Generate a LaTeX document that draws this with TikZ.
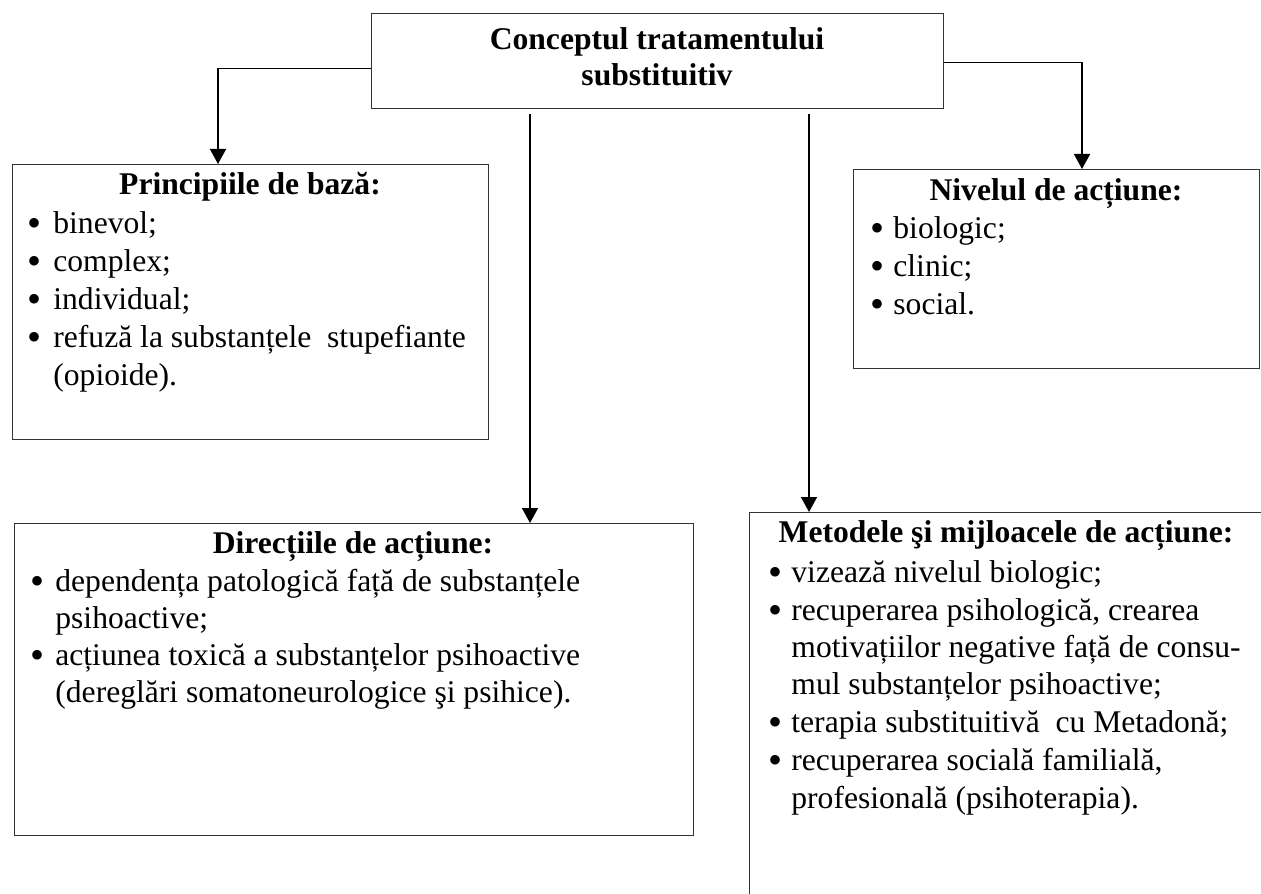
\documentclass[tikz,border=0pt]{standalone}
\usepackage{fontspec}
\setmainfont{Liberation Serif}
\usetikzlibrary{arrows.meta,calc}
\newcommand\myitem[5]{%
  \node[bul] (#1b) at (#2,#4+3) {\textbullet};
  \node[txt] (#1) at (#3,#4) {#5};}
\begin{document}
\begin{tikzpicture}[x=0.5pt,y=-0.5pt,
  box/.style={draw=black!80,line width=0.6pt,inner sep=0,anchor=north west},
  txt/.style={anchor=base west,inner sep=0,font=\fontsize{15.8}{18.8}\selectfont},
  bul/.style={anchor=base,inner sep=0,font=\fontsize{20}{20}\selectfont},
  ttl/.style={anchor=base,inner sep=0,font=\fontsize{15.8}{18.8}\selectfont\bfseries},
  conn/.style={draw,line width=0.75pt},
  arr/.style={conn,-{Triangle[length=7.5pt,width=8pt]}}]
\useasboundingbox (0,0) rectangle (1261,893);
\clip (0,0) rectangle (1261,893);

% boxes
\node[box,minimum width=286pt,minimum height=47.5pt] (top) at (371,13) {};
\node[box,minimum width=238pt,minimum height=137.5pt] (princ) at (12,164) {};
\node[box,minimum width=203pt,minimum height=99.5pt] (niv) at (853,169) {};
\node[box,minimum width=339.5pt,minimum height=156pt] (dir) at (14,523) {};
\node[box,minimum width=300pt,minimum height=250pt] (met) at (749,512) {};

% top title
\node[ttl] (topt1) at (657,50) {Conceptul tratamentului};
\node[ttl] (topt2) at (657,86) {substituitiv};

% Principiile
\node[ttl] (pt) at (250,195) {Principiile de bază:};
\myitem{p1}{35}{53}{233}{binevol;}
\myitem{p2}{35}{53}{271}{complex;}
\myitem{p3}{35}{53}{309}{individual;}
\myitem{p4}{35}{53}{347}{refuză la substanțele~ stupefiante}
\node[txt] (p5) at (53,385) {(opioide).};

% Nivelul
\node[ttl] (nt) at (1056,200) {Nivelul de acțiune:};
\myitem{n1}{877}{893}{238}{biologic;}
\myitem{n2}{877}{893}{276}{clinic;}
\myitem{n3}{877}{893}{314}{social.}

% Directiile
\node[ttl] (dt) at (353,553) {Direcțiile de acțiune:};
\myitem{d1}{38}{55}{591}{dependența patologică față de substanțele}
\node[txt] (d2) at (55,628) {psihoactive;};
\myitem{d3}{38}{55}{665}{acțiunea toxică a substanțelor psihoactive}
\node[txt] (d4) at (55,702) {(dereglări somatoneurologice şi psihice).};

% Metodele
\node[ttl] (mt) at (1006,542) {Metodele şi mijloacele de acțiune:};
\myitem{m1}{775}{791}{582}{vizează nivelul biologic;}
\myitem{m2}{775}{791}{620}{recuperarea psihologică, crearea}
\node[txt] (m3) at (791,657) {motivațiilor negative față de consu-};
\node[txt] (m4) at (791,694) {mul substanțelor psihoactive;};
\myitem{m5}{775}{791}{732}{terapia substituitivă~ cu Metadonă;}
\myitem{m6}{775}{791}{770}{recuperarea socială familială,}
\node[txt] (m7) at (791,808) {profesională (psihoterapia).};

% connectors
\draw[arr] ($(top.west)+(0,7.5)$) -| ($(princ.north west)+(206,0)$);
\draw[arr] ($(top.east)+(0,1.5)$) -| ($(niv.north west)+(229,0)$);
\coordinate (c1) at ($(top.south west)+(159,5)$);
\coordinate (c2) at ($(top.south west)+(438,5)$);
\draw[arr] (c1) -- (c1 |- dir.north);
\draw[arr] (c2) -- (c2 |- met.north);
\end{tikzpicture}
\end{document}
